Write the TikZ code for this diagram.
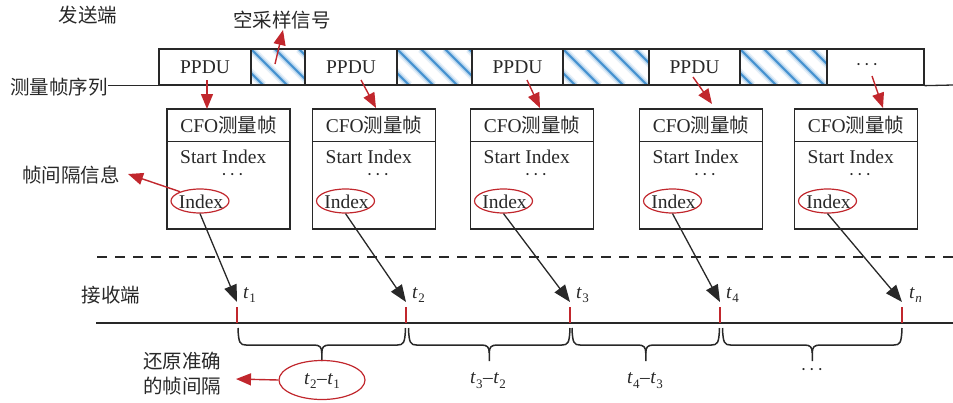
\documentclass[tikz,border=0pt]{standalone}
\usepackage{fontspec}
\setmainfont{Liberation Serif}
\newfontfamily\cjk{Noto Sans CJK SC}
\usetikzlibrary{arrows.meta,shapes.geometric}
\definecolor{myred}{RGB}{193,39,45}
\definecolor{ink}{RGB}{40,40,40}
\definecolor{hatchblue}{RGB}{35,125,200}
\newcommand\tsubx[1]{\textit{t}\kern0.3pt\raisebox{-0.55ex}{\fontsize{13}{13}\selectfont #1}}
\newcommand\threedots{·\kern2.5pt·\kern2.5pt·}
\newcommand\hatchrect[2]{%
  \begin{scope}
    \clip (#1,49) rectangle (#2,85);
    \foreach \s in {-48,-24,...,96} {
      \draw[line width=8pt, hatchblue!12] (#1+\s,49) -- ++(36,36);
      \draw[line width=4.5pt, hatchblue!35] (#1+\s,49) -- ++(36,36);
      \draw[line width=1.8pt, hatchblue!85] (#1+\s,49) -- ++(36,36);
    }
  \end{scope}}
\begin{document}
\begin{tikzpicture}[x=1pt,y=-1pt,
  every node/.style={font=\fontsize{19.5}{22}\selectfont, text=ink, inner sep=0pt},
  seqbox/.style={draw=ink, line width=1.3pt, minimum height=36pt},
  cfobox/.style={draw=ink, line width=1.3pt, minimum width=123pt, minimum height=120pt},
  redring/.style={ellipse, draw=myred, line width=1.2pt},
  redarr/.style={draw=myred, line width=1.4pt, -{Triangle[length=15pt,width=12pt]}},
  blkarr/.style={draw=ink, line width=1.3pt, -{Triangle[length=17pt,width=13pt]}},
  plainline/.style={draw=ink, line width=1.3pt},
  bracestyle/.style={draw=ink, line width=1.5pt},
  tickmark/.style={draw=myred, line width=1.3pt},
  dotsnode/.style={font=\fontsize{18}{18}\selectfont}]
\useasboundingbox (0,0) rectangle (953,402);

% ---------- sender side ----------
\node (send) at (88,15) {\cjk 发送端};
\node (empty) at (282,20) {\cjk 空采样信号};
\node (seqlbl) at (59,87) {\cjk 测量帧序列};

\hatchrect{251}{305}
\hatchrect{397}{472}
\hatchrect{563}{649}
\hatchrect{740}{827}

\node[seqbox, minimum width=92pt] (p1) at (205,67) {PPDU};
\node[seqbox, minimum width=54pt] (h1) at (278,67) {};
\node[seqbox, minimum width=92pt] (p2) at (351,67) {PPDU};
\node[seqbox, minimum width=75pt] (h2) at (434.5,67) {};
\node[seqbox, minimum width=91pt] (p3) at (517.5,67) {PPDU};
\node[seqbox, minimum width=86pt] (h3) at (606,67) {};
\node[seqbox, minimum width=91pt] (p4) at (694.5,67) {PPDU};
\node[seqbox, minimum width=87pt] (h4) at (783.5,67) {};
\node[seqbox, minimum width=97pt] (e) at (875.5,67) {};
\node[dotsnode] (edots) at (867,67) {\threedots};

\coordinate (seqend) at (953,85);
\draw[plainline] (seqlbl.east |- p1.south) -- (p1.south west);
\draw[plainline] (e.south east) -- (seqend);

\coordinate (hs) at (275,64);
\coordinate (emptytip) at (283,30);
\draw[redarr] (hs) -- (emptytip);

% ---------- CFO frames ----------
\foreach \i/\cx in {1/228.5, 2/374, 3/532, 4/701, 5/856} {
  \node[cfobox] (c\i) at (\cx,169) {};
  \draw[plainline] ([yshift=-33pt]c\i.north west) -- ([yshift=-33pt]c\i.north east);
  \node (ct\i) at (\cx,125) {CFO{\cjk 测量帧}};
  \node[anchor=west] (cs\i) at (\cx-48.5,157) {Start Index};
  \node[dotsnode] (cd\i) at (\cx+4,177) {\threedots};
  \node[redring, minimum width=58pt, minimum height=24pt] (ix\i) at (\cx-28.5,201) {};
  \node (it\i) at (\cx-27.5,202) {Index};
}

% PPDU -> CFO arrows
\coordinate (pa1) at (207,80);   \coordinate (pb1) at (207,109);
\coordinate (pa2) at (361,80);   \coordinate (pb2) at (376,108);
\coordinate (pa3) at (527,80);   \coordinate (pb3) at (540,108);
\coordinate (pa4) at (693,77);   \coordinate (pb4) at (712,104);
\coordinate (pa5) at (872,76);   \coordinate (pb5) at (883,108);
\foreach \i in {1,...,5} { \draw[redarr] (pa\i) -- (pb\i); }

\node (info) at (71,175) {\cjk 帧间隔信息};
\coordinate (infotip) at (128,174);
\draw[redarr] (ix1.155) -- (infotip);

% separator
\coordinate (dsA) at (97,257);
\coordinate (dsB) at (953,257);
\draw[draw=ink, line width=1.5pt, dash pattern=on 10pt off 8pt] (dsA) -- (dsB);

% ---------- receiver side ----------
\node (recv) at (111,295) {\cjk 接收端};
\coordinate (axA) at (96,323);
\coordinate (axB) at (967,323);
\draw[draw=ink, line width=1.3pt, -{Triangle[length=14pt,width=9pt]}] (axA) -- (axB);
\node (tax) at (957,342) {\textit{t}};

\foreach \i/\x in {1/237, 2/406, 3/570, 4/720, 5/902} {
  \coordinate (tk\i) at (\x,307);
  \coordinate (tb\i) at (\x,323);
  \coordinate (tp\i) at (\x,302);
  \draw[tickmark] (tk\i) -- (tb\i);
  \draw[blkarr] (ix\i.south) -- (tp\i);
}
\node[anchor=base west] (tl1) at (243,298) {\tsubx{1}};
\node[anchor=base west] (tl2) at (412,298) {\tsubx{2}};
\node[anchor=base west] (tl3) at (576,298) {\tsubx{3}};
\node[anchor=base west] (tl4) at (726,298) {\tsubx{4}};
\node[anchor=base west] (tl5) at (909,298) {\tsubx{\textit{n}}};

% braces
\foreach \a/\b in {238/405.5, 408.5/570, 572/719.5, 722.5/902} {
  \pgfmathsetmacro\m{(\a+\b)/2}
  \draw[bracestyle] (\a,328) .. controls (\a+0.5,343) and (\a+2,345) .. (\a+8,345)
     -- (\m-8,345) .. controls (\m-2,345) and (\m,347) .. (\m,353) -- (\m,361);
  \draw[bracestyle] (\m,353) .. controls (\m,347) and (\m+2,345) .. (\m+8,345)
     -- (\b-8,345) .. controls (\b-2,345) and (\b-0.5,343) .. (\b,328);
}

\node[redring, minimum width=86pt, minimum height=39pt] (d1) at (322,380) {};
\node (d1t) at (322,381) {\tsubx{2}\kern0.5pt–\kern0.5pt\tsubx{1}};
\node (d2t) at (488,381) {\tsubx{3}\kern0.5pt–\kern0.5pt\tsubx{2}};
\node (d3t) at (645,381) {\tsubx{4}\kern0.5pt–\kern0.5pt\tsubx{3}};
\node[dotsnode] (d4t) at (812,372) {\threedots};

\node[align=center, font=\fontsize{19.5}{25}\selectfont\cjk] (restore) at (182,374) {还原准确\\的帧间隔};
\coordinate (restoretip) at (236,379);
\draw[redarr] (d1.west) -- (restoretip);
\end{tikzpicture}
\end{document}
